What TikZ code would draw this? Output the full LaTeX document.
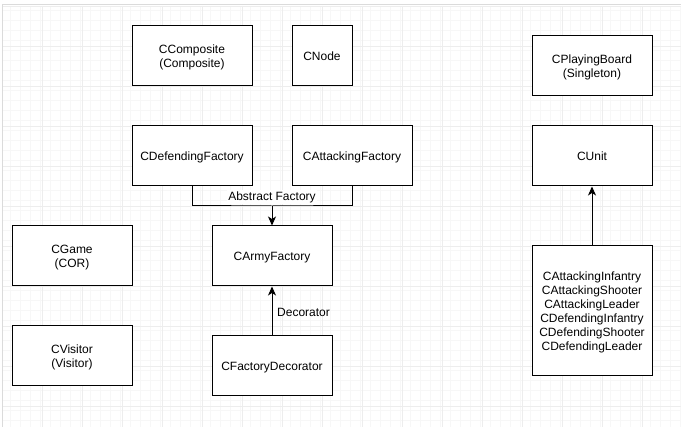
\documentclass[tikz,border=0pt]{standalone}
\usepackage{fontspec}
\setmainfont{Liberation Sans}
\usetikzlibrary{arrows.meta}

\tikzset{
  classbox/.style={draw,line width=1pt,fill=white,minimum width=120pt,minimum height=60pt,
    align=center,inner sep=0pt,text depth=0pt,font=\fontsize{12}{14}\selectfont},
  edgelabel/.style={font=\fontsize{12}{14}\selectfont,fill=white,inner sep=1pt},
  link/.style={line width=1pt},
  tip/.style={-{Stealth[length=9pt,width=8pt,inset=2.5pt]}}
}

\begin{document}
\begin{tikzpicture}[x=1pt,y=-1pt]
\useasboundingbox (0,0) rectangle (681,427);
% grid background
\fill[white] (0,0) rectangle (681,427);
\draw[black!3,line width=0.6pt] (2,6) grid[step=10pt] (681,427);
\foreach \gx in {2,42,...,681} \draw[black!7,line width=0.8pt] (\gx,6) -- (\gx,427);
\foreach \gy in {6,46,...,427} \draw[black!7,line width=0.8pt] (2,\gy) -- (681,\gy);
\draw[black!14,line width=1.5pt] (2.5,4.5) -- (681,4.5);
\draw[black!14,line width=1.5pt] (2.5,4.5) -- (2.5,427);

% boxes
\node[classbox] (comp) at (192,56) {CComposite\\(Composite)};
\node[classbox,minimum width=60pt] (cnode) at (322,56) {CNode};
\node[classbox] (deffac) at (192,156) {CDefendingFactory};
\node[classbox] (attfac) at (352,156) {CAttackingFactory};
\node[classbox] (army) at (272,256) {CArmyFactory};
\node[classbox] (decor) at (272,366) {CFactoryDecorator};
\node[classbox] (game) at (72,256) {CGame\\(COR)};
\node[classbox] (visitor) at (72,356) {CVisitor\\(Visitor)};
\node[classbox] (board) at (592,66) {CPlayingBoard\\(Singleton)};
\node[classbox] (unit) at (592,156) {CUnit};
\node[classbox,minimum height=130pt] (units) at (592,311)
  {CAttackingInfantry\\CAttackingShooter\\CAttackingLeader\\CDefendingInfantry\\CDefendingShooter\\CDefendingLeader};

% connectors
\coordinate (fork) at (272,206);
\draw[link] (deffac.south) |- (fork) -| (attfac.south);
\draw[link,tip] (fork) -- (army.north);
\node[edgelabel] (abslabel) at (272,197) {Abstract Factory};
\draw[link,tip] (decor.north) -- (army.south);
\node[edgelabel,anchor=west,fill=none] (declabel) at (276,312) {Decorator};
\draw[link,tip] (units.north) -- (unit.south);
\end{tikzpicture}
\end{document}
